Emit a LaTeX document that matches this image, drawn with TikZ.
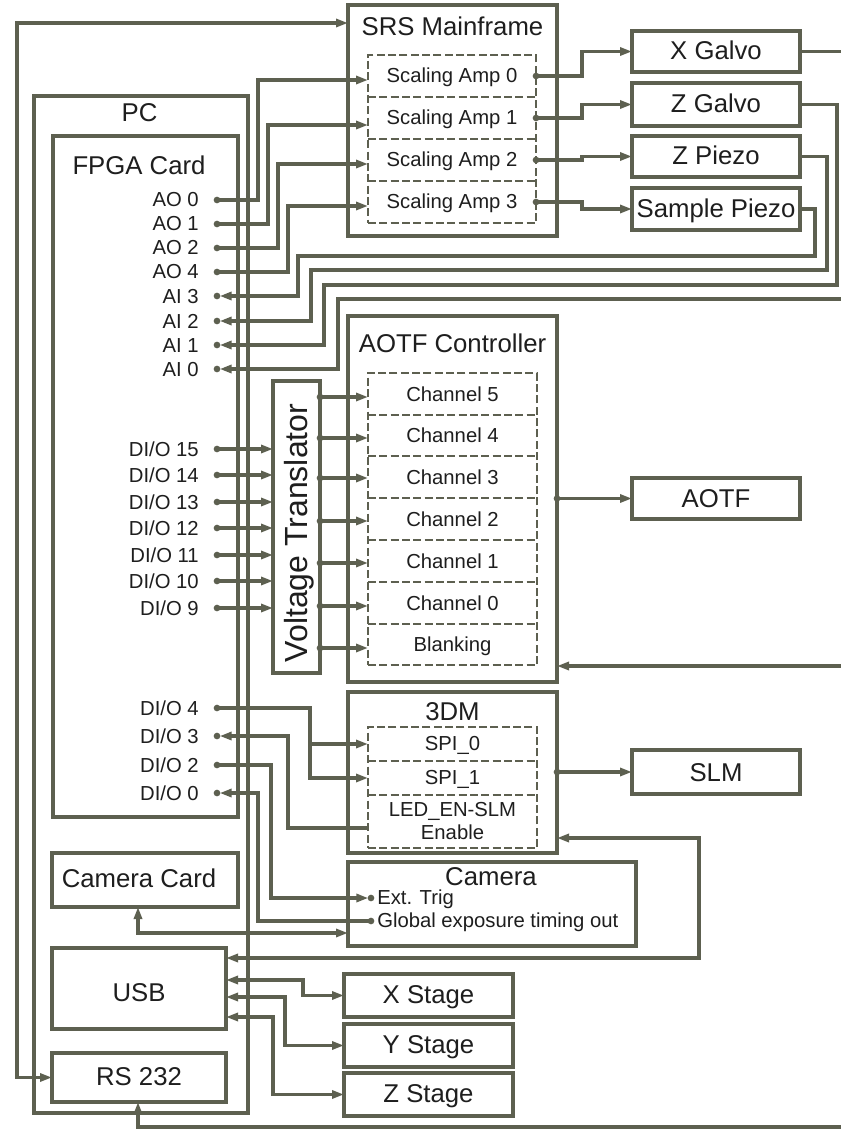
\documentclass[tikz,border=0pt]{standalone}
\usepackage{fontspec}
\setmainfont{Liberation Sans}
\usetikzlibrary{arrows.meta,fit,calc}
\definecolor{lc}{RGB}{93,96,80}
\definecolor{tc}{RGB}{30,30,30}
\begin{document}
\begin{tikzpicture}[x=0.75pt,y=-0.75pt,
  box/.style={draw=lc,line width=2.4pt,inner sep=0pt,outer sep=0pt},
  dbox/.style={draw=lc,line width=1.6pt,dash pattern=on 6pt off 2.5pt,inner sep=0pt,outer sep=0pt},
  row/.style={inner sep=0pt,outer sep=0pt},
  dline/.style={draw=lc,line width=1.6pt,dash pattern=on 6pt off 2.5pt},
  wire/.style={draw=lc,line width=2.4pt},
  ar/.style={wire,-{Triangle[length=9pt,width=6pt]}},
  ra/.style={wire,{Triangle[length=9pt,width=6pt]}-},
  bi/.style={wire,{Triangle[length=9pt,width=6pt]}-{Triangle[length=9pt,width=6pt]}},
  dot/.style={circle,fill=lc,inner sep=0pt,minimum size=5pt},
  ttl/.style={text=tc,font=\fontsize{19.3}{22}\selectfont,anchor=base,inner sep=0pt},
  lbl/.style={text=tc,font=\fontsize{15.2}{17}\selectfont,anchor=base,inner sep=0pt},
  pin/.style={lbl,anchor=base east},
]
\useasboundingbox (0,0) rectangle (841,1130);
\fill[white] (0,0) rectangle (841,1130);

% ---------------- boxes ----------------
\node[box,fit={(34,96)(248,1113)}] (pc) {};
\node[ttl] (pct) at (139.5,122) {PC};
\node[box,fit={(53,136)(238,817)}] (fpga) {};
\node[ttl] (fpgat) at (139,175) {FPGA Card};

\node[box,fit={(348,5)(557,236)}] (srs) {};
\node[ttl] (srst) at (452.5,36) {SRS Mainframe};
\node[dbox,fit={(368,55)(536,223)}] (srsd) {};
\node[row,fit={(368,55)(536,97)}] (amp0) {};
\node[row,fit={(368,97)(536,139)}] (amp1) {};
\node[row,fit={(368,139)(536,181)}] (amp2) {};
\node[row,fit={(368,181)(536,223)}] (amp3) {};
\draw[dline] (amp0.south west) -- (amp0.south east);
\draw[dline] (amp1.south west) -- (amp1.south east);
\draw[dline] (amp2.south west) -- (amp2.south east);
\node[lbl] (amp0t) at (452,83) {Scaling Amp 0};
\node[lbl] (amp1t) at (452,125) {Scaling Amp 1};
\node[lbl] (amp2t) at (452,167) {Scaling Amp 2};
\node[lbl] (amp3t) at (452,209) {Scaling Amp 3};

\node[box,fit={(632,31)(800,72)}] (xg) {};
\node[ttl] (xgt) at (716,60) {X Galvo};
\node[box,fit={(632,83)(800,126)}] (zg) {};
\node[ttl] (zgt) at (716,113) {Z Galvo};
\node[box,fit={(632,136)(800,177)}] (zp) {};
\node[ttl] (zpt) at (716,165) {Z Piezo};
\node[box,fit={(632,188)(800,230)}] (sp) {};
\node[ttl] (spt) at (716,218) {Sample Piezo};

\node[box,fit={(348,316)(557,682)}] (aotfc) {};
\node[ttl] (aotfct) at (452.5,352) {AOTF Controller};
\node[dbox,fit={(368,373)(537,665)}] (aotfd) {};
\node[row,fit={(368,373)(537,415)}] (ch5) {};
\node[row,fit={(368,415)(537,456)}] (ch4) {};
\node[row,fit={(368,456)(537,498)}] (ch3) {};
\node[row,fit={(368,498)(537,540)}] (ch2) {};
\node[row,fit={(368,540)(537,582)}] (ch1) {};
\node[row,fit={(368,582)(537,624)}] (ch0) {};
\node[row,fit={(368,624)(537,665)}] (blank) {};
\foreach \r in {ch5,ch4,ch3,ch2,ch1,ch0}{\draw[dline] (\r.south west) -- (\r.south east);}
\node[lbl] (ch5t) at (452.5,401) {Channel 5};
\node[lbl] (ch4t) at (452.5,442.5) {Channel 4};
\node[lbl] (ch3t) at (452.5,484) {Channel 3};
\node[lbl] (ch2t) at (452.5,526) {Channel 2};
\node[lbl] (ch1t) at (452.5,568) {Channel 1};
\node[lbl] (ch0t) at (452.5,610) {Channel 0};
\node[lbl] (blankt) at (452.5,651) {Blanking};

\node[box,fit={(632,478)(800,519)}] (aotf) {};
\node[ttl] (aotft) at (716,507.5) {AOTF};

\node[box,fit={(273,381)(320,673)}] (vt) {};
\node[text=tc,font=\fontsize{24}{28}\selectfont,rotate=90,anchor=base,inner sep=0pt] (vtt) at (307,533) {Voltage Translator};

\node[box,fit={(348,692)(557,853)}] (tdm) {};
\node[ttl] (tdmt) at (452.5,720) {3DM};
\node[dbox,fit={(368,727)(537,848)}] (tdmd) {};
\node[row,fit={(368,727)(537,761)}] (spi0) {};
\node[row,fit={(368,761)(537,795)}] (spi1) {};
\node[row,fit={(368,795)(537,848)}] (led) {};
\draw[dline] (spi0.south west) -- (spi0.south east);
\draw[dline] (spi1.south west) -- (spi1.south east);
\node[lbl] (spi0t) at (452.5,750) {SPI\_0};
\node[lbl] (spi1t) at (452.5,784) {SPI\_1};
\node[lbl] (ledt) at (452.5,816) {LED\_EN-SLM};
\node[lbl] (ledt2) at (452.5,839) {Enable};

\node[box,fit={(632,750)(800,794)}] (slm) {};
\node[ttl] (slmt) at (716,781) {SLM};

\node[box,fit={(348,862)(636,946)}] (cam) {};
\node[ttl] (camt) at (491,885) {Camera};
\node[lbl,anchor=base west] (extt) at (377,904) {Ext. Trig};
\node[lbl,anchor=base west] (globt) at (377,927) {Global exposure timing out};

\node[box,fit={(52,853)(238,907)}] (cc) {};
\node[ttl] (cct) at (139,887) {Camera Card};
\node[box,fit={(52,948)(226,1029)}] (usb) {};
\node[ttl] (usbt) at (139,1001) {USB};
\node[box,fit={(52,1053)(226,1102)}] (rs) {};
\node[ttl] (rst) at (139,1085) {RS 232};

\node[box,fit={(344,974)(513,1017)}] (xs) {};
\node[ttl] (xst) at (428.5,1003) {X Stage};
\node[box,fit={(344,1024)(513,1067)}] (ys) {};
\node[ttl] (yst) at (428.5,1053) {Y Stage};
\node[box,fit={(344,1073)(513,1116)}] (zs) {};
\node[ttl] (zst) at (428.5,1102) {Z Stage};

% ---------------- pins ----------------
\coordinate (ao0) at (217,200);
\coordinate (ao1) at (217,224);
\coordinate (ao2) at (217,248);
\coordinate (ao4) at (217,272);
\coordinate (ai3) at (217,296);
\coordinate (ai2) at (217,321);
\coordinate (ai1) at (217,345);
\coordinate (ai0) at (217,369);
\coordinate (d15) at (217,449);
\coordinate (d14) at (217,475);
\coordinate (d13) at (217,502);
\coordinate (d12) at (217,528);
\coordinate (d11) at (217,555);
\coordinate (d10) at (217,581);
\coordinate (d9) at (217,608);
\coordinate (d4) at (217,708);
\coordinate (d3) at (217,736);
\coordinate (d2) at (217,765);
\coordinate (d0) at (217,793);
\coordinate (vt5) at (320,397);
\coordinate (vt4) at (320,438);
\coordinate (vt3) at (320,478);
\coordinate (vt2) at (320,521);
\coordinate (vt1) at (320,563);
\coordinate (vt0) at (320,606);
\coordinate (vtb) at (320,648);
\coordinate (ext) at (371,898);
\coordinate (glob) at (371,921);
\coordinate (xgout) at (841,50);
\coordinate (xgret) at (841,299);
\coordinate (aotfin) at (841,666);
\coordinate (rsret) at (841,1127);

\node[pin] (ao0t) at (199,207) {AO 0};
\node[pin] (ao1t) at (199,231) {AO 1};
\node[pin] (ao2t) at (199,255) {AO 2};
\node[pin] (ao4t) at (199,279) {AO 4};
\node[pin] (ai3t) at (199,303) {AI 3};
\node[pin] (ai2t) at (199,328) {AI 2};
\node[pin] (ai1t) at (199,352) {AI 1};
\node[pin] (ai0t) at (199,376) {AI 0};
\node[pin] (d15t) at (199,456) {DI/O 15};
\node[pin] (d14t) at (199,482) {DI/O 14};
\node[pin] (d13t) at (199,509) {DI/O 13};
\node[pin] (d12t) at (199,535) {DI/O 12};
\node[pin] (d11t) at (199,562) {DI/O 11};
\node[pin] (d10t) at (199,588) {DI/O 10};
\node[pin] (d9t) at (199,615) {DI/O 9};
\node[pin] (d4t) at (199,715) {DI/O 4};
\node[pin] (d3t) at (199,743) {DI/O 3};
\node[pin] (d2t) at (199,772) {DI/O 2};
\node[pin] (d0t) at (199,800) {DI/O 0};

% ---------------- wires ----------------
% SRS <-> RS232
\draw[bi] (rs.west) -- ++(-35,0) |- ($(srs.north west)+(0,18)$);
% AO -> scaling amps
\draw[ar] (ao0) -- ++(41,0) |- ($(amp0.west)+(0,4)$);
\draw[ar] (ao1) -- ++(51,0) |- ($(amp1.west)+(0,7)$);
\draw[ar] (ao2) -- ++(61,0) |- ($(amp2.west)+(0,4)$);
\draw[ar] (ao4) -- ++(71,0) |- ($(amp3.west)+(0,4)$);
% amps -> galvos/piezos
\draw[ar] (amp0.east) -- ++(46,0) |- (xg.west);
\draw[ar] (amp1.east) -- ++(46,0) |- (zg.west);
\draw[ar] (amp2.east) -- ++(46,0) |- (zp.west);
\draw[ar] (amp3.east) -- ++(46,0) |- (sp.west);
% returns to AI
\draw[wire] (xg.east) -- (xg.east -| xgout);
\draw[ar,shorten >=2pt] (sp.east) -| (815,256) -- (298,256) |- (ai3);
\draw[ar,shorten >=2pt] (zp.east) -| (827,270) -- (311,270) |- (ai2);
\draw[ar,shorten >=2pt] (zg.east) -| (837,285) -- (324,285) |- (ai1);
\draw[ar,shorten >=2pt] (xgret) -- (338,299) |- (ai0);
% DIO -> voltage translator
\foreach \d in {d15,d14,d13,d12,d11,d10,d9}{\draw[ar] (\d) -- (vt.west |- \d);}
% voltage translator -> channels
\draw[ar] (vt5) -- (ch5.west |- vt5);
\draw[ar] (vt4) -- (ch4.west |- vt4);
\draw[ar] (vt3) -- (ch3.west |- vt3);
\draw[ar] (vt2) -- (ch2.west |- vt2);
\draw[ar] (vt1) -- (ch1.west |- vt1);
\draw[ar] (vt0) -- (ch0.west |- vt0);
\draw[ar] (vtb) -- (blank.west |- vtb);
% AOTF
\draw[ar] (aotfc.east |- aotf) -- (aotf.west);
\draw[ar] (aotfin) -- (aotfc.east |- aotfin);
% 3DM
\draw[ar] (d4) -- ++(93,0) |- (spi0.west);
\draw[ar] (d4) -- ++(93,0) |- (spi1.west);
\draw[ra,shorten <=2pt] (d3) -- ++(71,0) |- ($(led.west)+(0,6.5)$);
\draw[ar] (tdm.east |- slm) -- (slm.west);
\draw[bi] ($(usb.north east)+(0,10)$) -| ($(tdm.south east)+(142,-15)$) -- ($(tdm.south east)+(0,-15)$);
% Camera
\draw[ar,shorten >=2pt] (d2) -- ++(54,0) |- (ext);
\draw[ra,shorten <=2pt] (d0) -- ++(41,0) |- (glob);
\draw[bi] ($(cc.south)+(-7,0)$) |- ($(cam.south west)+(0,-13)$);
% USB <-> stages
\draw[bi] ($(usb.north east)+(0,32)$) -- ++(77,0) |- (xs.west);
\draw[bi] ($(usb.north east)+(0,49)$) -- ++(59,0) |- (ys.west);
\draw[bi] ($(usb.north east)+(0,69)$) -- ++(47,0) |- (zs.west);
% RS232 return
\draw[ar] (rsret) -- ($(rs.south)+(-1,25)$) -- ($(rs.south)+(-1,0)$);

% ---------------- dots ----------------
\foreach \p [count=\i] in {ao0,ao1,ao2,ao4,ai3,ai2,ai1,ai0,d15,d14,d13,d12,d11,d10,d9,d4,d3,d2,d0,vt5,vt4,vt3,vt2,vt1,vt0,vtb,ext,glob}{\node[dot] (dot\i) at (\p) {};}
\node[dot] (da0) at (amp0.east) {};
\node[dot] (da1) at (amp1.east) {};
\node[dot] (da2) at (amp2.east) {};
\node[dot] (da3) at (amp3.east) {};
\node[dot] (daotf) at (aotfc.east |- aotf) {};
\node[dot] (dslm) at (tdm.east |- slm) {};
\end{tikzpicture}
\end{document}
